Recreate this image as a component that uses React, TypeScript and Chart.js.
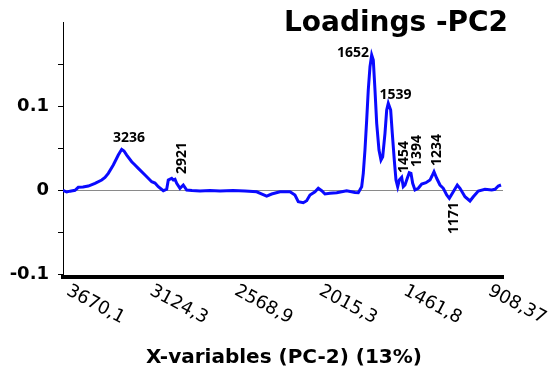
import React, { useEffect, useRef } from 'react';
import { Chart, registerables } from 'chart.js';

Chart.register(...registerables);

// Wavenumbers (cm-1) and PC2 loadings
const wavenumbers = [
  3673, 3648.8, 3627, 3594.4, 3572.8, 3542, 3507.2, 3463.3, 3419.4, 3397.8,
  3376.2, 3343.4, 3310.7, 3288.4, 3273.3, 3255.6, 3222.9, 3201.3, 3179.6, 3135.7,
  3091.8, 3070.2, 3048.6, 3015.8, 2993.6, 2983.1, 2960.8, 2950.3, 2939.2, 2928.1,
  2906.5, 2884.8, 2862.5, 2827.8, 2775.4, 2709.9, 2644.3, 2559.2, 2480.6, 2404,
  2369.2, 2338.5, 2305.7, 2251.3, 2185.8, 2153.1, 2131.4, 2098.6, 2076.4, 2054.7,
  2022, 2000.3, 1978.1, 1956.5, 1923.7, 1879.8, 1814.3, 1759.9, 1738.2, 1716,
  1705.5, 1694.4, 1683.2, 1672.8, 1661.5, 1650.4, 1639.9, 1628.8, 1617.6, 1602.6,
  1589.5, 1578.3, 1563.3, 1552.1, 1541.7, 1526, 1515.4, 1502.3, 1491.2, 1480.1,
  1469.6, 1453.9, 1443.4, 1432.2, 1417.2, 1404.1, 1393, 1381.8, 1366.7, 1345.1,
  1322.8, 1294.7, 1268.4, 1255.3, 1242.2, 1224.5, 1202.9, 1181.2, 1158.9, 1141.9,
  1115.7, 1089.5, 1071.9, 1039.1, 1006.3, 984.7, 951.9, 908, 864.1, 842.5,
  820.8, 803.1,
];
const loadings = [
  0.0, -0.002, -0.001, 0.0, 0.0036, 0.0039, 0.0051, 0.0083, 0.0122, 0.0152,
  0.0202, 0.0301, 0.0419, 0.0487, 0.0467, 0.0419, 0.034, 0.0301, 0.0261, 0.0182,
  0.0102, 0.0087, 0.0043, -0.0005, 0.0012, 0.0122, 0.0143, 0.0122, 0.0131, 0.0083,
  0.0024, 0.0063, 0.0004, -0.0002, -0.0008, -0.0002, -0.0008, -0.0002, -0.0008, -0.0017,
  -0.0044, -0.0068, -0.0044, -0.0017, -0.0017, -0.0056, -0.0135, -0.0147, -0.0124, -0.0056,
  -0.0017, 0.0024, -0.0005, -0.0044, -0.0036, -0.0029, -0.0005, -0.0026, -0.0029, 0.0043,
  0.0202, 0.0479, 0.0835, 0.1192, 0.1469, 0.1608, 0.1548, 0.1192, 0.0796, 0.0479,
  0.036, 0.0399, 0.0677, 0.0954, 0.1034, 0.0954, 0.0677, 0.036, 0.0122, 0.0043,
  0.0122, 0.0154, 0.0043, 0.0063, 0.0143, 0.0209, 0.0202, 0.0083, 0.0004, 0.0024,
  0.0075, 0.009, 0.0122, 0.017, 0.0221, 0.0143, 0.0063, 0.0024, -0.0056, -0.0095,
  -0.0017, 0.0063, 0.0024, -0.0076, -0.0127, -0.0076, -0.0008, 0.0012, 0.0004, 0.0012,
  0.0051, 0.0063,
];

const xTickValues = [3670.1, 3124.3, 2568.9, 2015.3, 1461.8, 908.37];
const xTickLabels = ['3670,1', '3124,3', '2568,9', '2015,3', '1461,8', '908,37'];
const yTickValues = [-0.1, -0.05, 0, 0.05, 0.1, 0.15];
const yTickLabels = ['-0.1', '', '0', '', '0.1', ''];

const peakLabels = ['3236', '2921', '1652', '1539', '1454', '1394', '1234', '1171'];
const peakX = [3241, 2890, 1773, 1494.5, 1438.8, 1353.6, 1222.6, 1111.2];
const peakY = [0.0621, 0.0384, 0.163, 0.1132, 0.0396, 0.0467, 0.0479, -0.0329];
const peakVertical = [false, true, false, false, true, true, true, true];

const titleText = 'Loadings -PC2';
const xTitleText = 'X-variables (PC-2) (13%)';

export default function App() {
  const ref = useRef<HTMLCanvasElement>(null);

  useEffect(() => {
    document.body.style.margin = '0';
    const canvas = ref.current;
    if (!canvas) return;

    const overlay = {
      id: 'overlay',
      afterDraw(chart: any) {
        const ctx = chart.ctx as CanvasRenderingContext2D;
        const xs = chart.scales.x;
        const ys = chart.scales.y;
        ctx.save();
        ctx.fillStyle = '#000';

        // title
        ctx.font = 'bold 28px "DejaVu Sans"';
        ctx.textAlign = 'center';
        ctx.textBaseline = 'alphabetic';
        ctx.fillText(titleText, 396, 31);

        // x axis title
        ctx.font = 'bold 20px "DejaVu Sans"';
        ctx.fillText(xTitleText, 284, 363);

        // rotated x tick labels
        ctx.font = '18px "DejaVu Sans"';
        ctx.textAlign = 'left';
        xTickValues.forEach((v, i) => {
          const px = xs.getPixelForValue(v);
          ctx.save();
          ctx.translate(px + 2, 294);
          ctx.rotate((28 * Math.PI) / 180);
          ctx.fillText(xTickLabels[i], 0, 0);
          ctx.restore();
        });

        // peak annotations
        ctx.font = 'bold 14px "Open Sans"';
        ctx.textAlign = 'center';
        ctx.textBaseline = 'middle';
        peakLabels.forEach((t, i) => {
          const px = xs.getPixelForValue(peakX[i]);
          const py = ys.getPixelForValue(peakY[i]);
          ctx.save();
          ctx.translate(px, py);
          if (peakVertical[i]) ctx.rotate(-Math.PI / 2);
          ctx.fillText(t, 0, 0);
          ctx.restore();
        });
        ctx.restore();
      },
    };

    const chart = new Chart(canvas, {
      type: 'line',
      data: {
        datasets: [
          {
            data: wavenumbers.map((w, i) => ({ x: w, y: loadings[i] })),
            borderColor: '#0a0aff',
            borderWidth: 3,
            pointRadius: 0,
            tension: 0,
            fill: false,
          },
        ],
      },
      options: {
        responsive: false,
        animation: false,
        layout: { padding: { top: 22, right: 56, left: 0, bottom: 0 } },
        plugins: {
          legend: { display: false },
          tooltip: { enabled: false },
          title: { display: false },
        },
        scales: {
          x: {
            type: 'linear',
            reverse: true,
            min: 790,
            max: 3673,
            grid: { display: false },
            border: { display: true, color: '#000', width: 4 },
            ticks: { display: false },
            afterFit: (scale: any) => {
              scale.height = 94;
            },
          },
          y: {
            type: 'linear',
            min: -0.103,
            max: 0.2,
            afterBuildTicks: (scale: any) => {
              scale.ticks = yTickValues.map((v) => ({ value: v }));
            },
            afterFit: (scale: any) => {
              scale.width = 63;
            },
            grid: {
              color: (c: any) => (c.tick && c.tick.value === 0 ? '#8a8a8a' : 'rgba(0,0,0,0)'),
              tickColor: '#000',
              tickLength: 5,
              lineWidth: 1,
            },
            border: { display: true, color: '#000', width: 1 },
            ticks: {
              color: '#000',
              padding: 9,
              font: { family: 'DejaVu Sans', size: 18, weight: 'bold' },
              callback: (_v: any, i: number) => yTickLabels[i],
            },
          },
        },
      },
      plugins: [overlay],
    } as any);

    return () => chart.destroy();
  }, []);

  return (
    <div style={{ width: 559, height: 371 }}>
      <canvas ref={ref} width={559} height={371} style={{ display: 'block' }} />
    </div>
  );
}
